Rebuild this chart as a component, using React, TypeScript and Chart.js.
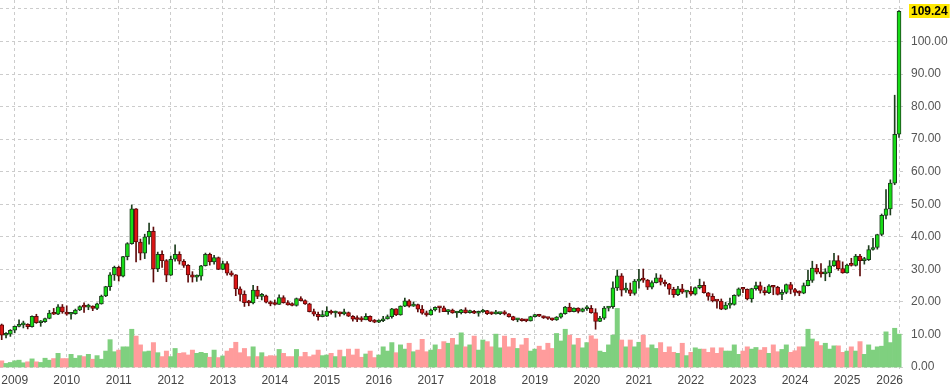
import React, { useEffect, useRef } from 'react';
import { Chart, registerables } from 'chart.js';

Chart.register(...registerables);

const months = [
  '2008-10','2008-11','2008-12',
  '2009-01','2009-02','2009-03','2009-04','2009-05','2009-06','2009-07','2009-08','2009-09','2009-10','2009-11','2009-12',
  '2010-01','2010-02','2010-03','2010-04','2010-05','2010-06','2010-07','2010-08','2010-09','2010-10','2010-11','2010-12',
  '2011-01','2011-02','2011-03','2011-04','2011-05','2011-06','2011-07','2011-08','2011-09','2011-10','2011-11','2011-12',
  '2012-01','2012-02','2012-03','2012-04','2012-05','2012-06','2012-07','2012-08','2012-09','2012-10','2012-11','2012-12',
  '2013-01','2013-02','2013-03','2013-04','2013-05','2013-06','2013-07','2013-08','2013-09','2013-10','2013-11','2013-12',
  '2014-01','2014-02','2014-03','2014-04','2014-05','2014-06','2014-07','2014-08','2014-09','2014-10','2014-11','2014-12',
  '2015-01','2015-02','2015-03','2015-04','2015-05','2015-06','2015-07','2015-08','2015-09','2015-10','2015-11','2015-12',
  '2016-01','2016-02','2016-03','2016-04','2016-05','2016-06','2016-07','2016-08','2016-09','2016-10','2016-11','2016-12',
  '2017-01','2017-02','2017-03','2017-04','2017-05','2017-06','2017-07','2017-08','2017-09','2017-10','2017-11','2017-12',
  '2018-01','2018-02','2018-03','2018-04','2018-05','2018-06','2018-07','2018-08','2018-09','2018-10','2018-11','2018-12',
  '2019-01','2019-02','2019-03','2019-04','2019-05','2019-06','2019-07','2019-08','2019-09','2019-10','2019-11','2019-12',
  '2020-01','2020-02','2020-03','2020-04','2020-05','2020-06','2020-07','2020-08','2020-09','2020-10','2020-11','2020-12',
  '2021-01','2021-02','2021-03','2021-04','2021-05','2021-06','2021-07','2021-08','2021-09','2021-10','2021-11','2021-12',
  '2022-01','2022-02','2022-03','2022-04','2022-05','2022-06','2022-07','2022-08','2022-09','2022-10','2022-11','2022-12',
  '2023-01','2023-02','2023-03','2023-04','2023-05','2023-06','2023-07','2023-08','2023-09','2023-10','2023-11','2023-12',
  '2024-01','2024-02','2024-03','2024-04','2024-05','2024-06','2024-07','2024-08','2024-09','2024-10','2024-11','2024-12',
  '2025-01','2025-02','2025-03','2025-04','2025-05','2025-06','2025-07','2025-08','2025-09','2025-10','2025-11','2025-12',
  '2026-01',
];

const opens = [
  12.95, 9.75, 10.1,
  11.3, 12.5, 12.95, 13.1, 12.4, 15.6, 13.6, 13.9, 14.9, 16.6, 16.2, 18.5,
  16.9, 16.2, 16.4, 17.5, 18.6, 18.4, 18.7, 18.0, 19.4, 21.8, 24.7, 28.3,
  30.6, 27.9, 33.9, 37.9, 48.6, 38.4, 35.0, 40.0, 41.7, 30.1, 34.6, 32.7,
  28.2, 33.1, 34.6, 32.5, 31.2, 28.3, 27.6, 27.9, 31.1, 34.6, 32.3, 33.6,
  30.0, 31.8, 28.8, 28.3, 24.0, 22.3, 19.8, 19.7, 23.6, 21.7, 21.9, 19.9,
  19.4, 19.2, 21.3, 19.8, 19.1, 18.9, 21.0, 20.4, 19.4, 17.0, 16.2, 15.5,
  15.6, 17.2, 16.6, 16.65, 16.3, 16.7, 15.6, 14.7, 14.6, 14.5, 15.6, 14.1,
  13.8, 14.2, 14.8, 15.5, 17.9, 16.0, 18.7, 20.3, 18.7, 19.2, 17.8, 16.5,
  16.0, 17.5, 18.3, 18.2, 17.0, 17.5, 16.6, 16.7, 17.6, 16.7, 16.75, 16.5,
  16.9, 17.3, 16.4, 16.3, 16.4, 16.45, 16.3, 15.5, 14.5, 14.6, 14.2, 14.15,
  15.5, 16.1, 15.6, 15.1, 14.9, 14.5, 15.3, 16.4, 18.4, 17.0, 18.1, 17.1,
  17.9, 18.0, 16.7, 14.0, 15.0, 18.1, 18.5, 24.3, 28.0, 23.6, 23.7, 22.6,
  26.4, 26.9, 26.7, 24.5, 25.9, 27.4, 26.1, 25.5, 23.9, 22.2, 24.0, 23.0,
  23.3, 22.4, 24.4, 25.1, 22.8, 21.7, 20.3, 20.25, 17.8, 19.0, 19.2, 22.0,
  24.0, 23.9, 20.9, 24.1, 25.0, 23.5, 22.8, 24.9, 24.5, 22.3, 22.9, 25.3,
  23.8, 22.9, 22.7, 25.0, 26.6, 30.4, 29.1, 28.6, 28.9, 31.1, 32.7, 30.2,
  28.9, 31.3, 31.2, 34.1, 32.7, 33.0, 36.1, 36.7, 40.7, 46.6, 48.6, 56.5,
  71.5,
];

const highs = [
  13.2, 10.6, 11.5,
  12.6, 14.5, 14.1, 13.3, 15.7, 16.2, 14.3, 15.0, 17.4, 18.0, 19.2, 19.2,
  18.8, 16.6, 17.8, 18.8, 19.7, 19.3, 18.8, 19.6, 22.1, 24.8, 29.0, 31.0,
  31.0, 34.0, 38.2, 49.8, 48.7, 39.3, 40.8, 44.2, 43.0, 35.3, 35.7, 33.0,
  34.1, 37.5, 35.4, 33.0, 31.5, 29.3, 28.3, 31.2, 35.0, 35.0, 34.3, 33.8,
  32.5, 32.4, 29.5, 28.4, 24.6, 23.4, 20.5, 25.1, 24.8, 22.6, 22.1, 20.3,
  20.6, 22.2, 21.9, 20.4, 19.7, 21.2, 21.6, 20.6, 19.6, 17.8, 16.9, 17.3,
  18.5, 17.5, 17.2, 16.9, 17.8, 16.9, 15.8, 15.7, 15.5, 16.4, 15.7, 14.6,
  14.5, 15.6, 16.0, 18.0, 17.9, 18.8, 21.2, 20.7, 20.0, 19.3, 18.9, 17.2,
  17.8, 18.5, 18.5, 18.7, 17.6, 17.8, 17.0, 17.7, 18.2, 17.5, 17.4, 17.2,
  17.7, 17.4, 16.9, 17.4, 16.8, 17.3, 16.4, 15.6, 14.9, 14.9, 14.6, 15.6,
  16.2, 16.2, 15.7, 15.2, 15.0, 15.5, 16.6, 18.6, 19.6, 18.2, 18.2, 18.1,
  18.9, 18.9, 17.9, 15.6, 18.6, 18.6, 26.2, 29.8, 28.7, 25.8, 25.8, 26.9,
  30.0, 30.1, 26.9, 26.5, 28.7, 28.3, 26.7, 25.7, 24.5, 24.8, 25.4, 23.4,
  24.7, 24.6, 27.0, 26.2, 22.9, 22.5, 20.4, 20.9, 19.9, 21.2, 22.2, 24.3,
  24.5, 24.0, 24.2, 26.1, 26.1, 24.5, 25.3, 25.0, 24.8, 23.7, 25.5, 26.0,
  24.2, 23.4, 25.8, 29.8, 32.5, 31.5, 31.8, 30.2, 32.7, 34.9, 34.2, 32.3,
  31.6, 33.4, 34.6, 34.6, 33.7, 37.3, 39.5, 40.8, 47.0, 54.5, 57.5, 83.5,
  109.5,
];

const lows = [
  8.4, 8.9, 9.4,
  10.5, 12.3, 12.0, 11.7, 12.2, 13.4, 12.5, 13.7, 14.8, 16.1, 16.1, 16.5,
  15.9, 14.7, 16.2, 17.3, 16.8, 17.6, 17.3, 17.6, 19.3, 21.6, 23.5, 26.6,
  26.4, 27.7, 32.9, 37.7, 32.3, 32.9, 33.3, 37.7, 26.1, 29.3, 30.6, 26.2,
  28.1, 32.5, 31.6, 30.6, 26.1, 26.1, 26.3, 26.7, 31.0, 31.3, 31.6, 29.9,
  29.9, 28.2, 27.9, 21.9, 20.3, 18.6, 18.8, 19.4, 21.0, 20.6, 19.7, 18.8,
  19.0, 19.2, 19.6, 19.0, 18.8, 18.7, 20.3, 19.2, 16.9, 15.7, 14.4, 15.4,
  15.5, 16.2, 15.3, 15.6, 16.0, 15.5, 14.1, 13.9, 14.0, 14.5, 13.9, 13.6,
  13.6, 13.9, 14.7, 15.0, 15.8, 15.9, 18.5, 18.4, 18.6, 16.9, 16.2, 15.6,
  15.9, 17.2, 16.8, 17.0, 16.2, 16.5, 15.2, 16.3, 16.5, 16.5, 16.4, 15.6,
  16.8, 16.1, 16.1, 16.2, 16.1, 16.0, 15.3, 14.3, 13.9, 14.1, 13.9, 14.1,
  15.3, 15.5, 14.9, 14.6, 14.3, 14.3, 15.0, 16.2, 16.9, 16.9, 16.6, 16.9,
  17.4, 16.5, 11.6, 13.9, 14.6, 17.2, 18.0, 23.5, 21.8, 22.9, 21.9, 22.1,
  24.2, 26.0, 23.8, 24.0, 25.8, 25.2, 24.8, 22.3, 21.4, 21.9, 22.6, 21.4,
  22.0, 22.1, 24.0, 22.7, 20.5, 20.0, 18.1, 17.6, 17.6, 18.1, 19.0, 21.7,
  22.8, 20.6, 19.9, 23.6, 22.7, 22.1, 22.5, 22.2, 22.1, 20.7, 22.5, 22.5,
  22.0, 21.9, 22.5, 24.9, 26.0, 28.6, 27.6, 26.5, 27.7, 30.9, 29.7, 28.8,
  28.8, 31.0, 31.0, 28.0, 31.6, 32.7, 35.9, 36.2, 40.3, 45.5, 46.7, 56.0,
  70.5,
];

const closes = [
  9.75, 10.1, 11.3,
  12.5, 12.95, 13.1, 12.4, 15.6, 13.6, 13.9, 14.9, 16.6, 16.2, 18.5, 16.9,
  16.2, 16.4, 17.5, 18.6, 18.4, 18.7, 18.0, 19.4, 21.8, 24.7, 28.3, 30.6,
  27.9, 33.9, 37.9, 48.6, 38.4, 35.0, 40.0, 41.7, 30.1, 34.6, 32.7, 28.2,
  33.1, 34.6, 32.5, 31.2, 28.3, 27.6, 27.9, 31.1, 34.6, 32.3, 33.6, 30.0,
  31.8, 28.8, 28.3, 24.0, 22.3, 19.8, 19.7, 23.6, 21.7, 21.9, 19.9, 19.4,
  19.2, 21.3, 19.8, 19.1, 18.9, 21.0, 20.4, 19.4, 17.0, 16.2, 15.5, 15.6,
  17.2, 16.6, 16.65, 16.3, 16.7, 15.6, 14.7, 14.6, 14.5, 15.6, 14.1, 13.8,
  14.2, 14.8, 15.5, 17.9, 16.0, 18.7, 20.3, 18.7, 19.2, 17.8, 16.5, 16.0,
  17.5, 18.3, 18.2, 17.0, 17.5, 16.6, 16.7, 17.6, 16.7, 16.75, 16.5, 16.9,
  17.3, 16.4, 16.3, 16.4, 16.45, 16.3, 15.5, 14.5, 14.6, 14.2, 14.15, 15.5,
  16.1, 15.6, 15.1, 14.9, 14.5, 15.3, 16.4, 18.4, 17.0, 18.1, 17.1, 17.9,
  18.0, 16.7, 14.0, 15.0, 18.1, 18.5, 24.3, 28.0, 23.6, 23.7, 22.6, 26.4,
  26.9, 26.7, 24.5, 25.9, 27.4, 26.1, 25.5, 23.9, 22.2, 24.0, 23.0, 23.3,
  22.4, 24.4, 25.1, 22.8, 21.7, 20.3, 20.25, 17.8, 19.0, 19.2, 22.0, 24.0,
  23.9, 20.9, 24.1, 25.0, 23.5, 22.8, 24.9, 24.5, 22.3, 22.9, 25.3, 23.8,
  22.9, 22.7, 25.0, 26.6, 30.4, 29.1, 28.6, 28.9, 31.1, 32.7, 30.2, 28.9,
  31.3, 31.2, 34.1, 32.7, 33.0, 36.1, 36.7, 40.7, 46.6, 48.6, 56.5, 71.5,
  109.24,
];

// volume, in the chart's own bottom-band units
const volumes = [
  1.9, 1.1, 1.4,
  1.9, 2.1, 1.3, 1.6, 2.5, 1.6, 1.4, 2.7, 2.1, 2.6, 4.2, 2.6,
  2.6, 3.9, 2.7, 3.5, 3.2, 3.9, 2.4, 3.5, 2.4, 4.9, 8.4, 4.7,
  5.2, 6.2, 6.2, 11.6, 9.5, 6.8, 4.7, 4.9, 7.5, 4.4, 3.2, 4.9,
  3.2, 5.7, 4.2, 4.4, 3.7, 5.2, 4.2, 4.5, 4.2, 3.0, 5.2, 2.9,
  3.4, 4.9, 5.7, 7.6, 4.4, 5.7, 3.2, 6.2, 3.2, 4.4, 3.2, 3.5,
  3.4, 5.4, 4.2, 3.2, 3.2, 5.4, 3.2, 4.5, 3.2, 3.7, 5.2, 3.5,
  3.7, 4.2, 3.2, 5.2, 3.2, 5.5, 3.7, 5.5, 3.0, 4.0, 4.9, 2.9,
  3.7, 6.2, 4.9, 7.5, 4.4, 6.8, 5.5, 7.3, 4.7, 5.2, 8.5, 4.7,
  5.2, 6.8, 5.4, 7.8, 7.3, 8.8, 6.8, 10.5, 6.2, 6.8, 9.5, 5.2,
  8.3, 7.8, 6.2, 10.1, 5.9, 9.5, 6.2, 8.8, 5.7, 6.8, 8.8, 4.9,
  5.5, 6.4, 5.2, 7.3, 5.7, 10.3, 8.0, 11.6, 9.8, 6.8, 8.8, 5.9,
  7.5, 9.6, 8.6, 4.9, 4.5, 6.8, 9.8, 18.0, 8.3, 6.2, 8.3, 6.2,
  7.6, 9.8, 5.9, 6.8, 5.7, 7.5, 4.5, 6.2, 4.5, 4.2, 7.3, 3.5,
  4.5, 5.9, 5.5, 5.5, 4.5, 5.9, 4.2, 5.9, 4.9, 4.9, 6.8, 3.9,
  4.9, 6.2, 5.5, 6.0, 5.2, 6.0, 4.2, 6.8, 4.7, 5.4, 6.8, 4.5,
  5.0, 6.2, 6.2, 11.6, 8.6, 7.8, 6.6, 7.3, 5.5, 6.5, 6.5, 4.5,
  4.9, 6.2, 4.9, 7.8, 3.9, 6.8, 5.2, 6.2, 6.4, 10.8, 7.5, 11.9,
  10.1,
];

const yearLabels = ['2009','2010','2011','2012','2013','2014','2015','2016','2017','2018','2019','2020','2021','2022','2023','2024','2025','2026'];
const priceTicks = [0, 10, 20, 30, 40, 50, 60, 70, 80, 90, 100, 110];

const UP_FILL = '#17dc17';
const UP_LINE = '#1d3d1d';
const DN_FILL = '#dc1515';
const DN_LINE = '#5e0b0b';
const VOL_UP = '#7fd07f';
const VOL_DN = '#ff9c9c';
const GRID = '#cccccc';
const FONT = '"Liberation Sans", Arial, Helvetica, sans-serif';

const Y_MIN = -0.614;
const Y_MAX = 112.75;

function monthIndex(m: string): number {
  const [y, mo] = m.split('-').map(Number);
  return (y - 2009) * 12 + (mo - 1);
}

export default function App() {
  const ref = useRef<HTMLCanvasElement | null>(null);

  useEffect(() => {
    if (!ref.current) return;
    const xs = months.map(monthIndex);
    const up = closes.map((c, i) => c >= opens[i]);

    const overlay = {
      id: 'overlay',
      afterDraw(chart: any) {
        const { ctx, chartArea, scales } = chart;
        const sx = scales.x;
        const sy = scales.y;
        ctx.save();
        ctx.font = `12px ${FONT}`;
        ctx.fillStyle = '#444444';
        ctx.textBaseline = 'middle';
        ctx.textAlign = 'center';
        yearLabels.forEach((lab, i) => {
          const w = ctx.measureText(lab).width;
          let px = sx.getPixelForValue(i * 12);
          px = Math.min(px, chartArea.right - w / 2);
          px = Math.max(px, chartArea.left + w / 2);
          ctx.fillText(lab, px, chartArea.bottom + 12);
        });
        const last = closes[closes.length - 1];
        const py = sy.getPixelForValue(last);
        ctx.font = `bold 12px ${FONT}`;
        const txt = last.toFixed(2);
        const tw = ctx.measureText(txt).width;
        const bx = chartArea.right + 6;
        ctx.fillStyle = '#ffe800';
        ctx.fillRect(bx, Math.round(py) - 7, tw + 4, 14);
        ctx.fillStyle = '#000000';
        ctx.textAlign = 'left';
        ctx.fillText(txt, bx + 2, Math.round(py) + 0.5);
        ctx.restore();
      },
    };

    const chart = new Chart(ref.current, {
      type: 'bar',
      data: {
        datasets: [
          {
            label: 'body',
            data: xs.map((x, i) => ({ x, y: [opens[i], closes[i]] })),
            backgroundColor: up.map((u) => (u ? UP_FILL : DN_FILL)),
            borderColor: up.map((u) => (u ? UP_LINE : DN_LINE)),
            borderWidth: 1,
            borderSkipped: false,
            barThickness: 4,
            minBarLength: 2,
            grouped: false,
            yAxisID: 'y',
            order: 1,
          } as any,
          {
            label: 'wick',
            data: xs.map((x, i) => ({ x, y: [lows[i], highs[i]] })),
            backgroundColor: up.map((u) => (u ? UP_LINE : DN_LINE)),
            borderWidth: 0,
            barThickness: 1,
            grouped: false,
            yAxisID: 'y',
            order: 2,
          } as any,
          {
            label: 'volume',
            data: xs.map((x, i) => ({ x, y: volumes[i] })),
            backgroundColor: up.map((u) => (u ? VOL_UP : VOL_DN)),
            borderWidth: 0,
            barPercentage: 1,
            categoryPercentage: 1,
            grouped: false,
            yAxisID: 'yv',
            order: 3,
          } as any,
        ],
      },
      options: {
        animation: false,
        responsive: false,
        maintainAspectRatio: false,
        devicePixelRatio: 1,
        layout: { padding: 0 },
        plugins: {
          legend: { display: false },
          tooltip: { enabled: false },
        },
        scales: {
          x: {
            type: 'linear',
            position: 'bottom',
            offset: false,
            min: -3.392,
            max: 204.92,
            afterBuildTicks: (s: any) => {
              s.ticks = yearLabels.map((_, i) => ({ value: i * 12 }));
            },
            afterFit: (s: any) => {
              s.height = 18;
              s.paddingLeft = 0;
              s.paddingRight = 0;
            },
            ticks: { display: false },
            grid: { color: GRID, lineWidth: 1, drawTicks: false, offset: false },
            border: { display: false, dash: [3, 3] },
          },
          y: {
            type: 'linear',
            position: 'right',
            min: Y_MIN,
            max: Y_MAX,
            afterBuildTicks: (s: any) => {
              s.ticks = priceTicks.map((v) => ({ value: v }));
            },
            afterFit: (s: any) => {
              s.width = 47;
              s.paddingTop = 0;
              s.paddingBottom = 0;
            },
            ticks: {
              callback: (v: any) => (Number(v) >= 110 ? '' : Number(v).toFixed(2)),
              color: '#555555',
              font: { family: FONT, size: 12 },
              padding: 8,
            },
            grid: { color: GRID, lineWidth: 1, drawTicks: false },
            border: { display: false, dash: [3, 3] },
          },
          yv: {
            type: 'linear',
            display: false,
            min: Y_MIN,
            max: Y_MAX,
          },
        },
      } as any,
      plugins: [overlay],
    });

    return () => chart.destroy();
  }, []);

  return (
    <div style={{ position: 'fixed', left: 0, top: 0, width: 950, height: 387, background: '#ffffff' }}>
      <canvas ref={ref} width={950} height={387} style={{ display: 'block', width: 950, height: 387 }} />
    </div>
  );
}
